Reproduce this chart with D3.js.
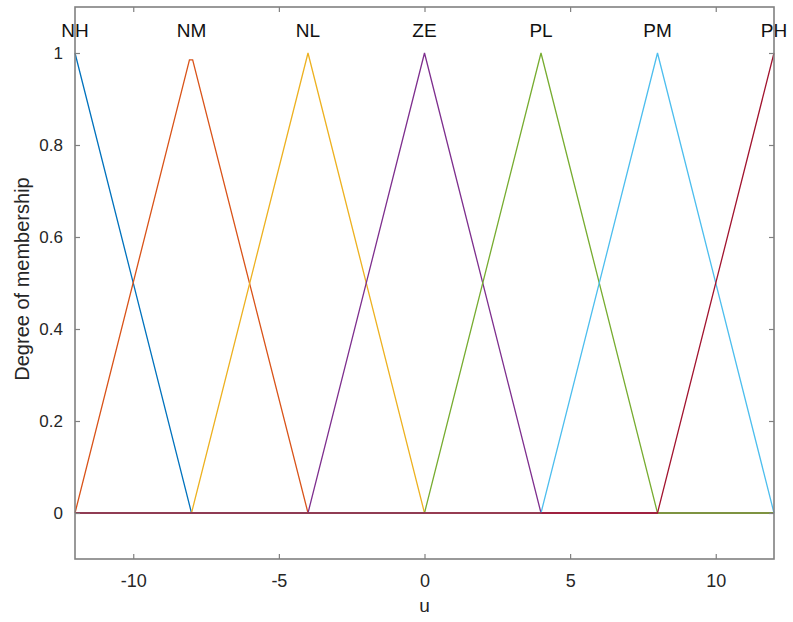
<!DOCTYPE html>
<html>
<head>
<meta charset="utf-8">
<script src="https://cdn.jsdelivr.net/npm/d3@7"></script>
<style>
  body { margin: 0; background: #fff; }
  text { font-family: "Liberation Sans", Arial, sans-serif; fill: #262626; }
</style>
</head>
<body>
<div id="chart"></div>
<script>
const width = 793;
const height = 622;
const margin = { top: 7, right: 19, bottom: 63, left: 75 };

// membership function labels and where they peak
const mfNames = ["NH", "NM", "NL", "ZE", "PL", "PM", "PH"];
const mfCenters = [-12, -8, -4, 0, 4, 8, 12];
const mfColors = ["#0072BD", "#D95319", "#EDB120", "#7E2F8E", "#77AC30", "#4DBEEE", "#A2142F"];

// polyline points [u, degree] for each set
const NH = [[-12, 1], [-8, 0], [12, 0]];
const NM = [[-12, 0], [-8.07, 0.985], [-7.96, 0.985], [-4, 0], [12, 0]];
const NL = [[-12, 0], [-8, 0], [-4, 1], [0, 0], [12, 0]];
const ZE = [[-12, 0], [-4, 0], [0, 1], [4, 0], [12, 0]];
const PL = [[-12, 0], [0, 0], [4, 1], [8, 0], [12, 0]];
const PM = [[-12, 0], [4, 0], [8, 1], [12, 0]];
const PH = [[-12, 0], [8, 0], [12, 1]];
const seriesPoints = [NH, NM, NL, ZE, PL, PM, PH];

const xTicks = [-10, -5, 0, 5, 10];
const yTicks = [0, 0.2, 0.4, 0.6, 0.8, 1];

const svg = d3.select("#chart").append("svg")
  .attr("width", width)
  .attr("height", height);

const x = d3.scaleLinear().domain([-12, 12]).range([margin.left, width - margin.right]);
const y = d3.scaleLinear().domain([-0.1, 1.1]).range([height - margin.bottom, margin.top]);

const line = d3.line().x(d => x(d[0])).y(d => y(d[1]));

svg.selectAll("path.mf")
  .data(seriesPoints)
  .enter()
  .append("path")
  .attr("class", "mf")
  .attr("d", line)
  .attr("fill", "none")
  .attr("stroke", (d, i) => mfColors[i])
  .attr("stroke-width", 1.3);

svg.selectAll("text.mflabel")
  .data(mfNames)
  .enter()
  .append("text")
  .attr("class", "mflabel")
  .attr("x", (d, i) => x(mfCenters[i]))
  .attr("y", y(1.05))
  .attr("dy", "0.35em")
  .attr("text-anchor", "middle")
  .attr("font-size", 19)
  .style("fill", "#111")
  .text(d => d);

// box-style axes with inward ticks on all four sides
const axisColor = "#808080";
const tickLen = 5;
const fmtX = d => String(d); // plain hyphen minus, like the original

function styleAxis(size) {
  return g => {
    g.select(".domain").remove();
    g.selectAll(".tick line").attr("stroke", axisColor).attr("stroke-width", 1.2);
    g.selectAll(".tick text").attr("font-size", size).style("fill", "#262626");
  };
}

svg.append("g")
  .attr("transform", `translate(0,${height - margin.bottom})`)
  .call(d3.axisBottom(x).tickValues(xTicks).tickSizeInner(-tickLen).tickSizeOuter(0).tickPadding(15).tickFormat(fmtX))
  .call(styleAxis(18));

svg.append("g")
  .attr("transform", `translate(0,${margin.top})`)
  .call(d3.axisTop(x).tickValues(xTicks).tickSizeInner(-tickLen).tickSizeOuter(0).tickFormat(""))
  .call(styleAxis(18));

svg.append("g")
  .attr("transform", `translate(${margin.left},0)`)
  .call(d3.axisLeft(y).tickValues(yTicks).tickSizeInner(-tickLen).tickSizeOuter(0).tickPadding(12).tickFormat(d => d === 0 || d === 1 ? d : d.toFixed(1)))
  .call(styleAxis(17));

svg.append("g")
  .attr("transform", `translate(${width - margin.right},0)`)
  .call(d3.axisRight(y).tickValues(yTicks).tickSizeInner(-tickLen).tickSizeOuter(0).tickFormat(""))
  .call(styleAxis(17));

svg.append("rect")
  .attr("x", margin.left)
  .attr("y", margin.top)
  .attr("width", width - margin.left - margin.right)
  .attr("height", height - margin.top - margin.bottom)
  .attr("fill", "none")
  .attr("stroke", axisColor)
  .attr("stroke-width", 1.6);

svg.append("text")
  .attr("x", x(0))
  .attr("y", 612)
  .attr("text-anchor", "middle")
  .attr("font-size", 19)
  .text("u");

svg.append("text")
  .attr("transform", `translate(29,279) rotate(-90)`)
  .attr("text-anchor", "middle")
  .attr("font-size", 20)
  .text("Degree of membership");
</script>
</body>
</html>
